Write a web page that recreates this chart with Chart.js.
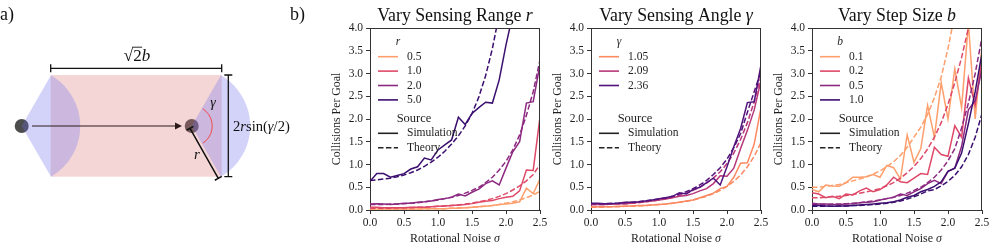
<!DOCTYPE html>
<html>
<head>
<meta charset="utf-8">
<script src="https://cdn.jsdelivr.net/npm/chart.js@4.4.0/dist/chart.umd.min.js"></script>
<style>
  body { margin: 0; background: #fff; }
  #wrap { position: relative; width: 996px; height: 252px; overflow: hidden; background: #fff; }
  canvas { position: absolute; top: 0; }
</style>
</head>
<body>
<div id="wrap">
  <canvas id="diagram" width="320" height="252" style="left:0px"></canvas>
  <canvas id="rangeChart" width="262" height="252" style="left:290px"></canvas>
  <canvas id="angleChart" width="262" height="252" style="left:511px"></canvas>
  <canvas id="stepChart" width="262" height="252" style="left:732px"></canvas>
</div>
<script>
// rotational noise sigma (x axis)
const sigma = [0.0, 0.1, 0.2, 0.3, 0.4, 0.5, 0.6, 0.7, 0.8, 0.9, 1.0, 1.1, 1.2, 1.3, 1.4, 1.5, 1.6, 1.7, 1.8, 1.9, 2.0, 2.1, 2.2, 2.3, 2.4, 2.5];
const xTickValues = [0.0, 0.5, 1.0, 1.5, 2.0, 2.5];
const yTickValues = [0.0, 0.5, 1.0, 1.5, 2.0, 2.5, 3.0, 3.5, 4.0];

// Vary Sensing Range r
const rangeLabels = ['0.5', '1.0', '2.0', '5.0'];
const rangeSim05 = [0.02, 0.02, 0.02, 0.02, 0.02, 0.02, 0.02, 0.02, 0.03, 0.03, 0.03, 0.03, 0.04, 0.04, 0.05, 0.06, 0.07, 0.08, 0.10, 0.12, 0.13, 0.15, 0.18, 0.48, 0.36, 0.68];
const rangeThy05 = [0.02, 0.02, 0.02, 0.02, 0.02, 0.02, 0.02, 0.02, 0.03, 0.03, 0.03, 0.03, 0.04, 0.05, 0.05, 0.06, 0.07, 0.09, 0.10, 0.12, 0.15, 0.18, 0.22, 0.27, 0.33, 0.41];
const rangeSim10 = [0.06, 0.06, 0.05, 0.05, 0.05, 0.05, 0.06, 0.06, 0.06, 0.07, 0.08, 0.09, 0.10, 0.11, 0.12, 0.14, 0.17, 0.19, 0.21, 0.25, 0.28, 0.30, 0.42, 0.88, 0.87, 2.05];
const rangeThy10 = [0.04, 0.04, 0.04, 0.04, 0.05, 0.05, 0.05, 0.06, 0.06, 0.07, 0.08, 0.09, 0.10, 0.11, 0.13, 0.15, 0.18, 0.21, 0.25, 0.30, 0.36, 0.44, 0.53, 0.64, 0.78, 1.00];
const rangeSim20 = [0.13, 0.14, 0.13, 0.12, 0.13, 0.15, 0.15, 0.17, 0.18, 0.20, 0.23, 0.25, 0.28, 0.35, 0.31, 0.39, 0.46, 0.58, 0.64, 0.55, 0.92, 1.28, 1.50, 2.35, 2.38, 3.20];
const rangeThy20 = [0.12, 0.12, 0.12, 0.13, 0.13, 0.14, 0.15, 0.16, 0.18, 0.20, 0.22, 0.25, 0.28, 0.32, 0.37, 0.43, 0.50, 0.60, 0.72, 0.88, 1.07, 1.32, 1.65, 2.08, 2.60, 3.30];
const rangeSim50 = [0.63, 0.80, 0.80, 0.72, 0.76, 0.80, 0.90, 0.95, 1.14, 1.10, 1.32, 1.43, 1.54, 2.04, 1.88, 2.12, 2.25, 2.37, 2.35, 2.86, 3.63, 4.30, null, null, null, null];
const rangeThy50 = [0.65, 0.66, 0.68, 0.70, 0.73, 0.77, 0.82, 0.88, 0.96, 1.05, 1.16, 1.29, 1.45, 1.63, 1.85, 2.12, 2.48, 2.95, 3.55, 4.30, null, null, null, null, null, null];

// Vary Sensing Angle gamma
const angleLabels = ['1.05', '2.09', '2.36'];
const angleSim105 = [0.07, 0.07, 0.07, 0.07, 0.08, 0.08, 0.09, 0.10, 0.10, 0.11, 0.12, 0.13, 0.15, 0.17, 0.20, 0.22, 0.27, 0.32, 0.37, 0.47, 0.52, 0.72, 1.03, 1.04, 1.45, 2.25];
const angleThy105 = [0.06, 0.06, 0.06, 0.07, 0.07, 0.08, 0.08, 0.09, 0.10, 0.11, 0.12, 0.13, 0.15, 0.17, 0.19, 0.22, 0.26, 0.30, 0.36, 0.43, 0.52, 0.63, 0.77, 0.95, 1.18, 1.48];
const angleSim209 = [0.12, 0.12, 0.12, 0.13, 0.14, 0.14, 0.15, 0.17, 0.18, 0.20, 0.22, 0.24, 0.27, 0.30, 0.32, 0.36, 0.42, 0.47, 0.58, 0.75, 0.74, 0.92, 1.35, 1.75, 2.20, 2.85];
const angleThy209 = [0.12, 0.12, 0.12, 0.13, 0.13, 0.14, 0.15, 0.16, 0.18, 0.20, 0.22, 0.25, 0.28, 0.32, 0.37, 0.43, 0.50, 0.59, 0.70, 0.84, 1.02, 1.25, 1.55, 1.92, 2.38, 2.95];
const angleSim236 = [0.15, 0.15, 0.14, 0.14, 0.15, 0.17, 0.17, 0.18, 0.20, 0.22, 0.25, 0.27, 0.30, 0.38, 0.35, 0.45, 0.50, 0.60, 0.70, 0.55, 0.95, 1.39, 1.79, 2.36, 2.38, 3.19];
const angleThy236 = [0.14, 0.14, 0.14, 0.15, 0.15, 0.16, 0.17, 0.18, 0.20, 0.22, 0.24, 0.27, 0.30, 0.35, 0.40, 0.47, 0.55, 0.65, 0.78, 0.93, 1.12, 1.37, 1.68, 2.15, 2.60, 3.05];

// Vary Step Size b
const stepLabels = ['0.1', '0.2', '0.5', '1.0'];
const stepSim01 = [0.45, 0.40, 0.55, 0.53, 0.52, 0.60, 0.72, 0.72, 0.73, 0.78, 0.72, 0.98, 0.93, 0.68, 1.65, 1.05, 1.35, 2.30, 1.60, 2.80, 2.00, 3.10, 2.25, 4.10, 2.00, 3.60];
const stepThy01 = [0.50, 0.50, 0.52, 0.54, 0.56, 0.60, 0.64, 0.68, 0.73, 0.79, 0.86, 0.95, 1.06, 1.20, 1.38, 1.60, 1.82, 2.10, 2.47, 2.92, 3.55, 4.30, null, null, null, null];
const stepSim02 = [0.38, 0.35, 0.27, 0.30, 0.25, 0.35, 0.33, 0.42, 0.48, 0.40, 0.45, 0.55, 0.72, 0.62, 0.60, 0.70, 0.80, 0.78, 1.38, 1.22, 1.18, 1.85, 1.60, 2.90, 2.30, 3.30];
const stepThy02 = [0.27, 0.27, 0.28, 0.29, 0.30, 0.32, 0.34, 0.37, 0.40, 0.43, 0.47, 0.53, 0.60, 0.70, 0.82, 0.96, 1.13, 1.34, 1.60, 1.92, 2.32, 2.80, 3.35, 4.00, 4.80, null];
const stepSim05 = [0.15, 0.13, 0.13, 0.12, 0.12, 0.13, 0.14, 0.16, 0.17, 0.18, 0.22, 0.25, 0.28, 0.35, 0.32, 0.40, 0.47, 0.58, 0.65, 0.58, 0.85, 0.92, 1.40, 2.20, 2.40, 3.10];
const stepThy05 = [0.12, 0.12, 0.12, 0.13, 0.13, 0.14, 0.15, 0.16, 0.18, 0.20, 0.22, 0.25, 0.28, 0.32, 0.37, 0.43, 0.50, 0.60, 0.72, 0.88, 1.08, 1.35, 1.80, 2.35, 3.00, 3.80];
const stepSim10 = [0.10, 0.10, 0.09, 0.08, 0.09, 0.09, 0.10, 0.11, 0.12, 0.13, 0.15, 0.16, 0.18, 0.22, 0.28, 0.32, 0.40, 0.45, 0.52, 0.62, 0.85, 0.92, 1.25, 1.90, 2.60, 3.45];
const stepThy10 = [0.08, 0.08, 0.08, 0.08, 0.09, 0.09, 0.10, 0.10, 0.11, 0.12, 0.13, 0.15, 0.17, 0.20, 0.24, 0.29, 0.35, 0.42, 0.45, 0.53, 0.63, 0.76, 0.95, 1.22, 1.60, 2.12];

const magma4 = ['#fe9f6d', '#de4968', '#8c2981', '#3b0f70'];
const magma3 = ['#fc8961', '#b73779', '#51127c'];
const SERIF = '"Liberation Serif", "DejaVu Serif", serif';
const INK = '#1e1e1e';

// draw a line of text made of normal / italic pieces
function drawParts(ctx, parts, x, y, size, align) {
    const widths = parts.map(p => {
        ctx.font = (p[1] ? 'italic ' : '') + size + 'px ' + SERIF;
        return ctx.measureText(p[0]).width;
    });
    const total = widths.reduce((a, b) => a + b, 0);
    let cx = align === 'center' ? x - total / 2 : x;
    ctx.textAlign = 'left';
    parts.forEach((p, i) => {
        ctx.font = (p[1] ? 'italic ' : '') + size + 'px ' + SERIF;
        ctx.fillText(p[0], cx, y);
        cx += widths[i];
    });
    return total;
}

// titles, frame and in-plot legend for each panel
const panelDecor = {
    id: 'panelDecor',
    afterDraw(chart, args, opts) {
        const ctx = chart.ctx;
        const a = chart.chartArea;
        ctx.save();

        // top and right spines
        ctx.strokeStyle = '#333';
        ctx.lineWidth = 1;
        ctx.beginPath();
        ctx.moveTo(a.left, a.top + 0.5);
        ctx.lineTo(a.right, a.top + 0.5);
        ctx.moveTo(a.right - 0.5, a.top);
        ctx.lineTo(a.right - 0.5, a.bottom);
        ctx.stroke();

        ctx.fillStyle = '#111';
        ctx.textBaseline = 'alphabetic';
        const mid = (a.left + a.right) / 2;
        drawParts(ctx, opts.title, mid, 21, 17.8, 'center');
        ctx.fillStyle = INK;
        drawParts(ctx, [['Rotational Noise ', false], ['\u03c3', true]], mid, 242, 12, 'center');

        ctx.save();
        ctx.translate(a.left - 33, (a.top + a.bottom) / 2);
        ctx.rotate(-Math.PI / 2);
        ctx.textBaseline = 'middle';
        drawParts(ctx, [['Collisions Per Goal', false]], 0, 0, 11.8, 'center');
        ctx.restore();

        // legend
        const lx = a.left;
        const ly = a.top;
        ctx.textBaseline = 'middle';
        ctx.textAlign = 'center';
        ctx.font = 'italic 11.5px ' + SERIF;
        ctx.fillText(opts.symbol, lx + 28, ly + 13.5);
        ctx.lineWidth = 1.6;
        opts.labels.forEach((lab, i) => {
            const yy = ly + 28.7 + i * 14.4;
            ctx.strokeStyle = opts.colors[i];
            ctx.setLineDash([]);
            ctx.beginPath();
            ctx.moveTo(lx + 8, yy);
            ctx.lineTo(lx + 28, yy);
            ctx.stroke();
            ctx.textAlign = 'left';
            ctx.font = '11.5px ' + SERIF;
            ctx.fillText(lab, lx + 37, yy);
        });
        ctx.textAlign = 'center';
        ctx.font = '12.5px ' + SERIF;
        ctx.fillText('Source', lx + 44, ly + 90.3);
        [['Simulation', []], ['Theory', [5.5, 2.4]]].forEach((s, i) => {
            const yy = ly + 105.3 + i * 14.4;
            ctx.strokeStyle = '#222';
            ctx.setLineDash(s[1]);
            ctx.beginPath();
            ctx.moveTo(lx + 8, yy);
            ctx.lineTo(lx + 28, yy);
            ctx.stroke();
            ctx.textAlign = 'left';
            ctx.font = '11.5px ' + SERIF;
            ctx.fillText(s[0], lx + 37, yy);
        });
        ctx.restore();
    }
};

function lineSet(values, color, dashed) {
    return {
        data: sigma.map((s, i) => ({ x: s, y: values[i] })),
        borderColor: color,
        borderWidth: 1.5,
        borderDash: dashed ? [5.5, 2.4] : [],
        pointRadius: 0,
        tension: 0,
        fill: false
    };
}

// dark series first so they end up on top
function buildSets(simList, thyList, colors) {
    const sets = [];
    for (let i = simList.length - 1; i >= 0; i--) {
        sets.push(lineSet(simList[i], colors[i], false));
        sets.push(lineSet(thyList[i], colors[i], true));
    }
    return sets;
}

function makeChart(id, datasets, decor) {
    const tickFont = { family: SERIF, size: 11.5 };
    return new Chart(document.getElementById(id), {
        type: 'line',
        data: { datasets: datasets },
        options: {
            responsive: false,
            animation: false,
            events: [],
            layout: { padding: { top: 28, right: 12, bottom: 0, left: 0 } },
            plugins: {
                legend: { display: false },
                tooltip: { enabled: false },
                panelDecor: decor
            },
            scales: {
                x: {
                    type: 'linear',
                    min: 0,
                    max: 2.5,
                    afterFit: s => { s.height = 42; },
                    afterBuildTicks: s => { s.ticks = xTickValues.map(v => ({ value: v })); },
                    ticks: { callback: v => v.toFixed(1), font: tickFont, color: INK, padding: 2, maxRotation: 0, autoSkip: false },
                    grid: { display: true, drawOnChartArea: false, drawTicks: true, tickLength: 4, color: '#333' },
                    border: { display: true, color: '#333', width: 1 }
                },
                y: {
                    type: 'linear',
                    min: 0,
                    max: 4,
                    afterFit: s => { s.width = 80; },
                    afterBuildTicks: s => { s.ticks = yTickValues.map(v => ({ value: v })); },
                    ticks: { callback: v => v.toFixed(1), font: tickFont, color: INK, padding: 3, autoSkip: false },
                    grid: { display: true, drawOnChartArea: false, drawTicks: true, tickLength: 4, color: '#333' },
                    border: { display: true, color: '#333', width: 1 }
                }
            }
        },
        plugins: [panelDecor]
    });
}

function drawDiagram() {
    const ctx = document.getElementById('diagram').getContext('2d');
    const left = { x: 21.7, y: 126 };
    const right = { x: 191.7, y: 126 };
    const reach = 58.5;
    const half = Math.PI / 3;

    // robots
    ctx.fillStyle = '#4d4d4d';
    [left, right].forEach(p => {
        ctx.beginPath();
        ctx.arc(p.x, p.y, 7, 0, 2 * Math.PI);
        ctx.fill();
    });
    // swept area
    ctx.fillStyle = 'rgba(220,120,120,0.3)';
    ctx.fillRect(50.7, 75, 171, 101.7);
    // sensing sectors
    ctx.fillStyle = 'rgba(110,110,240,0.3)';
    [left, right].forEach(p => {
        ctx.beginPath();
        ctx.moveTo(p.x, p.y);
        ctx.arc(p.x, p.y, reach, -half, half);
        ctx.closePath();
        ctx.fill();
    });

    // step arrow
    ctx.strokeStyle = '#2a1a1a';
    ctx.fillStyle = '#2a1a1a';
    ctx.lineWidth = 1;
    ctx.beginPath();
    ctx.moveTo(32, 126);
    ctx.lineTo(178, 126);
    ctx.stroke();
    ctx.beginPath();
    ctx.moveTo(182, 126);
    ctx.lineTo(175, 122.6);
    ctx.lineTo(175, 129.4);
    ctx.closePath();
    ctx.fill();

    // brackets
    ctx.strokeStyle = '#111';
    ctx.lineWidth = 1.3;
    ctx.beginPath();
    ctx.moveTo(50.7, 68.3); ctx.lineTo(221.7, 68.3);
    ctx.moveTo(50.7, 64.3); ctx.lineTo(50.7, 72.3);
    ctx.moveTo(221.7, 64.3); ctx.lineTo(221.7, 72.3);
    ctx.moveTo(228.3, 75); ctx.lineTo(228.3, 176.7);
    ctx.moveTo(224.3, 75); ctx.lineTo(232.3, 75);
    ctx.moveTo(224.3, 176.7); ctx.lineTo(232.3, 176.7);
    ctx.stroke();

    // sensing radius r
    const p0 = { x: 190, y: 128.3 };
    const p1 = { x: 218.3, y: 178.3 };
    const len = Math.hypot(p1.x - p0.x, p1.y - p0.y);
    const nx = -(p1.y - p0.y) / len * 4;
    const ny = (p1.x - p0.x) / len * 4;
    ctx.lineWidth = 1.5;
    ctx.beginPath();
    ctx.moveTo(p0.x, p0.y); ctx.lineTo(p1.x, p1.y);
    ctx.moveTo(p0.x - nx, p0.y - ny); ctx.lineTo(p0.x + nx, p0.y + ny);
    ctx.moveTo(p1.x - nx, p1.y - ny); ctx.lineTo(p1.x + nx, p1.y + ny);
    ctx.stroke();

    // angle arc
    ctx.strokeStyle = '#f04848';
    ctx.lineWidth = 1;
    ctx.beginPath();
    ctx.arc(right.x, right.y, 20.5, -1.0, 1.0);
    ctx.stroke();

    // labels
    ctx.fillStyle = '#111';
    ctx.textBaseline = 'alphabetic';
    drawParts(ctx, [['a)', false]], 0, 20, 18, 'left');
    drawParts(ctx, [['b)', false]], 290, 20, 18, 'left');
    ctx.font = '17px ' + SERIF;
    const sq = ctx.measureText('\u221a').width;
    const two = ctx.measureText('2').width;
    const w = drawParts(ctx, [['\u221a2', false], ['b', true]], 137, 60.5, 17, 'center');
    const sx = 137 - w / 2;
    ctx.strokeStyle = '#111';
    ctx.lineWidth = 0.9;
    ctx.beginPath();
    ctx.moveTo(sx + sq - 1, 47.2);
    ctx.lineTo(sx + sq + two + 0.5, 47.2);
    ctx.stroke();
    drawParts(ctx, [['2', false], ['r', true], ['sin(', false], ['\u03b3', true], ['/2)', false]], 233, 131, 14.6, 'left');
    ctx.textBaseline = 'middle';
    drawParts(ctx, [['\u03b3', true]], 213, 103, 14, 'center');
    drawParts(ctx, [['r', true]], 197, 155, 15, 'center');
}

document.addEventListener("DOMContentLoaded", function () {
    drawDiagram();
    makeChart('rangeChart',
        buildSets([rangeSim05, rangeSim10, rangeSim20, rangeSim50], [rangeThy05, rangeThy10, rangeThy20, rangeThy50], magma4),
        { title: [['Vary Sensing Range ', false], ['r', true]], symbol: 'r', labels: rangeLabels, colors: magma4 });
    makeChart('angleChart',
        buildSets([angleSim105, angleSim209, angleSim236], [angleThy105, angleThy209, angleThy236], magma3),
        { title: [['Vary Sensing Angle ', false], ['\u03b3', true]], symbol: '\u03b3', labels: angleLabels, colors: magma3 });
    makeChart('stepChart',
        buildSets([stepSim01, stepSim02, stepSim05, stepSim10], [stepThy01, stepThy02, stepThy05, stepThy10], magma4),
        { title: [['Vary Step Size ', false], ['b', true]], symbol: 'b', labels: stepLabels, colors: magma4 });
});
</script>
</body>
</html>
